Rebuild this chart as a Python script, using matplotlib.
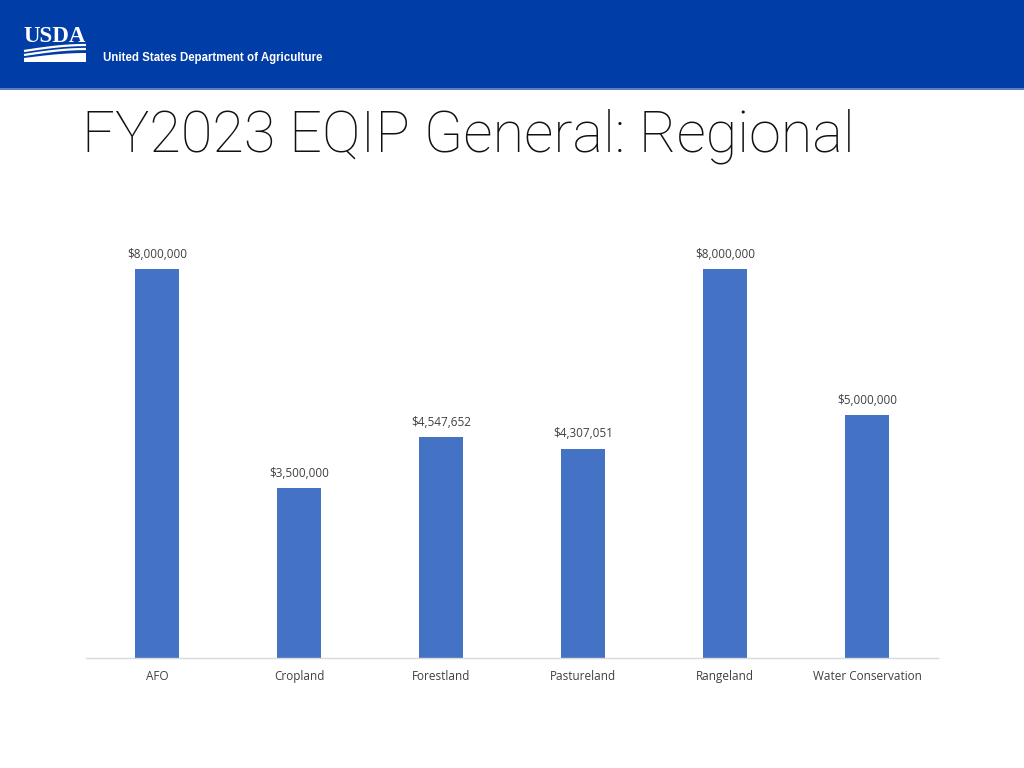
import matplotlib
matplotlib.use("Agg")
import matplotlib.pyplot as plt
import numpy as np
from matplotlib.patches import Rectangle, Polygon
from matplotlib.transforms import blended_transform_factory

categories = ["AFO", "Cropland", "Forestland", "Pastureland", "Rangeland", "Water Conservation"]
values = [8000000, 3500000, 4547652, 4307051, 8000000, 5000000]
title = "FY2023 EQIP General: Regional"

fig = plt.figure(figsize=(10.24, 7.68), dpi=100)
fig.patch.set_facecolor("white")

# overlay for header (pixel coordinates)
ov = fig.add_axes([0, 0, 1, 1], zorder=0)
ov.set_xlim(0, 1024)
ov.set_ylim(768, 0)
ov.axis("off")
ov.add_patch(Rectangle((0, 0), 1024, 89, color="#013DA6", lw=0))
ov.add_patch(Rectangle((0, 88), 1024, 2, color="#5b7fc4", lw=0))
ov.text(23, 42, "USDA", color="white", fontsize=16.5, fontfamily="Liberation Serif",
        fontweight="bold", va="baseline", ha="left")
# swooshes
xs = np.linspace(24, 86, 50)
for off, th in [(0, 1.6), (4, 1.6)]:
    ys = 51 + off - 6 * np.sin((xs - 24) / 62 * np.pi * 0.5)
    ov.plot(xs, ys, color="white", lw=th, solid_capstyle="butt")
ys_top = 58 - 5 * np.sin((xs - 24) / 62 * np.pi * 0.5)
poly = np.vstack([np.column_stack([xs, ys_top]), [[86, 62], [24, 62]]])
ov.add_patch(Polygon(poly, closed=True, color="white", lw=0))
ov.text(103, 57.5, "United States Department of Agriculture", color="white", fontsize=8.3,
        fontfamily="Liberation Sans", fontweight="bold", va="center", ha="left")

ov.text(82, 152, title, color="#111111", fontsize=41.5, fontfamily="Roboto",
        fontweight="light", va="baseline", ha="left")

# chart
ax = fig.add_axes([86 / 1024, 1 - 658 / 768, 852 / 1024, 458 / 768], zorder=1)
ax.patch.set_alpha(0)
x = np.arange(len(categories))
ymax = 458 / 389 * 8000000
bars = ax.bar(x, values, width=0.31, color="#4472C4", zorder=2)
ax.set_xlim(-0.5, len(categories) - 0.5)
ax.set_ylim(0, ymax)
for xi, v in zip(x, values):
    ax.text(xi, v + ymax * 0.018, "${:,.0f}".format(v), ha="center", va="bottom",
            fontsize=8.5, color="#404040", fontfamily="Open Sans")
ax.set_xticks(x)
ax.set_xticklabels([])
tr = blended_transform_factory(ax.transData, ax.transAxes)
for xi, c in zip(x, categories):
    ax.text(xi, -22 / 458, c, transform=tr, ha="center", va="baseline",
            fontsize=8.5, color="#404040", fontfamily="Open Sans")
ax.tick_params(axis="x", length=0)
ax.set_yticks([])
for s in ["top", "right", "left"]:
    ax.spines[s].set_visible(False)
ax.spines["bottom"].set_color("#d9d9d9")
ax.spines["bottom"].set_linewidth(1)

fig.savefig("out.png", dpi=100)
